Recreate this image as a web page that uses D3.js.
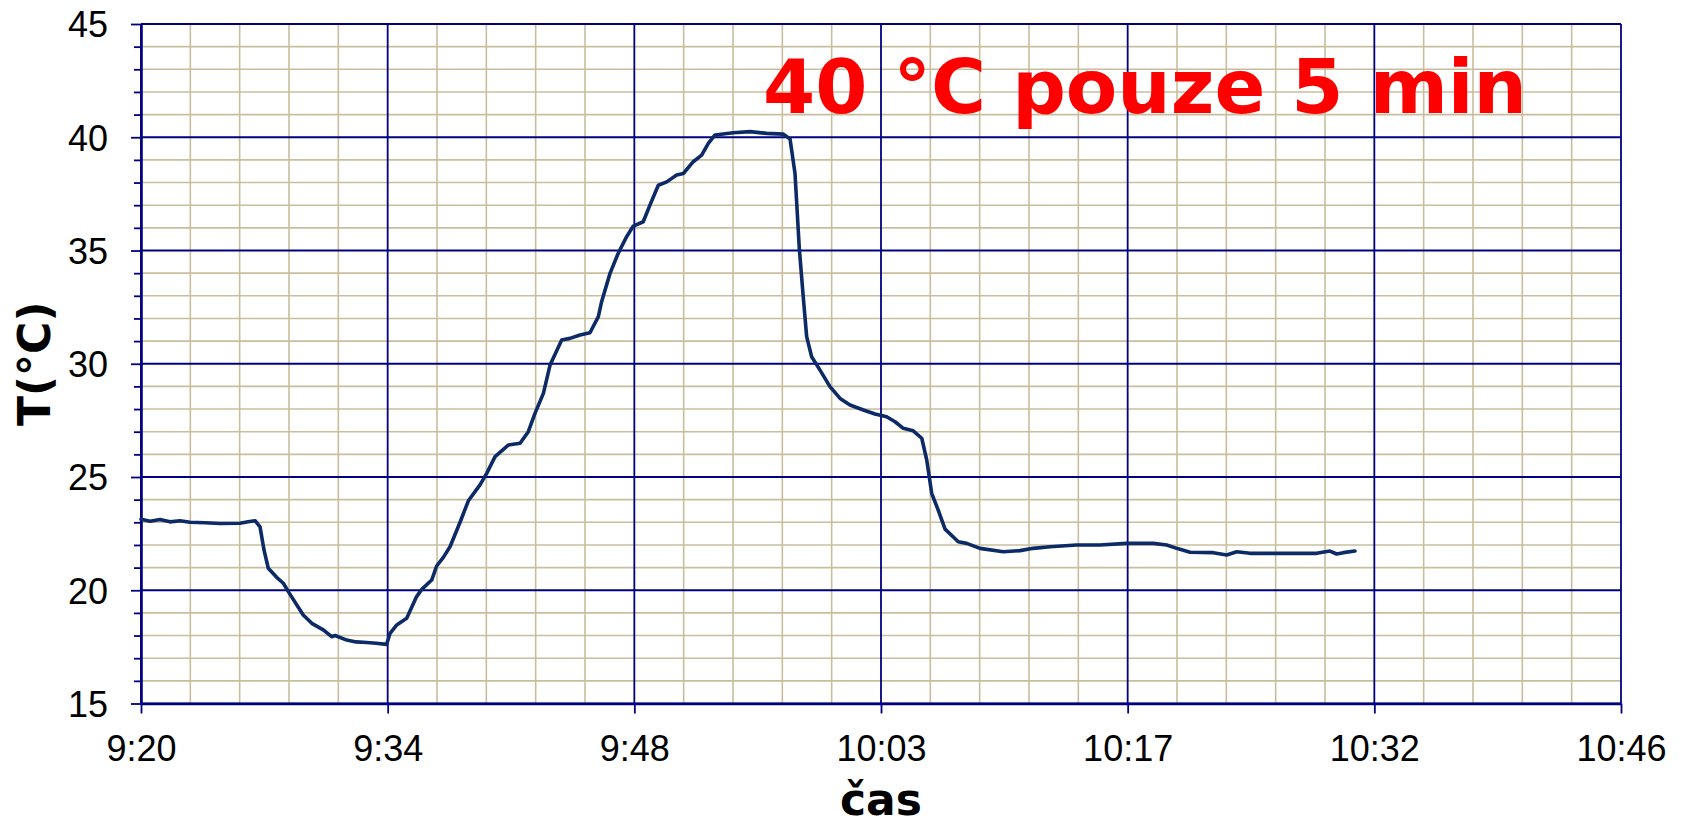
<!DOCTYPE html>
<html>
<head>
<meta charset="utf-8">
<script src="https://cdn.jsdelivr.net/npm/d3@7"></script>
<style>
  html, body { margin: 0; padding: 0; background: #ffffff; }
  svg { display: block; }
</style>
</head>
<body>
<svg id="chart" width="1683" height="822"></svg>
<script>
// ---- data (minutes after the axis origin 9:20, temperature in °C) ----
const timeMin = [0, 0.53, 1.11, 1.69, 2.28, 2.86, 3.74, 4.61, 5.78, 6.25, 6.66, 6.95, 7.18, 7.43, 7.92, 8.31, 8.60,
  9.47, 9.97, 10.64, 11.13, 11.33, 12.01, 12.55, 13.18, 13.72, 14.34, 14.54, 14.93, 15.51, 16.09, 16.39, 16.97,
  17.26, 17.65, 18.04, 18.62, 19.11, 19.79, 20.18, 20.67, 21.44, 22.13, 22.61, 23.00, 23.49, 23.88, 24.56, 25.04,
  25.63, 26.21, 26.70, 26.89, 27.38, 27.86, 28.35, 28.74, 29.32, 29.71, 30.20, 30.69, 31.27, 31.66, 32.24, 32.73,
  33.12, 33.51, 34.58, 35.55, 36.53, 37.50, 37.89, 38.18, 38.43, 38.66, 38.86, 39.15, 39.64, 40.22, 40.81, 41.39,
  42.17, 42.85, 43.53, 44.02, 44.50, 45.08, 45.58, 45.87, 46.16, 46.54, 46.94, 47.71, 48.20, 48.98, 50.34, 51.31,
  52.09, 53.07, 54.62, 55.98, 57.54, 59.10, 59.88, 60.46, 61.24, 62.60, 63.38, 63.97, 64.74, 65.72, 66.69, 67.66,
  68.63, 69.41, 69.80, 70.19, 70.87];
const tempC = [23.13, 23.05, 23.12, 23.02, 23.07, 23.00, 22.98, 22.95, 22.96, 23.02, 23.07, 22.80, 21.78, 20.97, 20.57, 20.31, 19.94,
  18.91, 18.54, 18.25, 17.95, 18.00, 17.80, 17.72, 17.69, 17.66, 17.61, 18.10, 18.47, 18.76, 19.72, 20.04, 20.45,
  21.07, 21.45, 21.92, 22.99, 23.95, 24.65, 25.16, 25.90, 26.41, 26.49, 27.00, 27.81, 28.69, 29.94, 31.05, 31.12,
  31.27, 31.37, 32.08, 32.74, 33.99, 34.88, 35.61, 36.08, 36.27, 37.00, 37.88, 38.03, 38.33, 38.40, 38.92, 39.21,
  39.73, 40.10, 40.20, 40.25, 40.17, 40.14, 39.92, 38.40, 35.10, 32.96, 31.20, 30.31, 29.72, 28.99, 28.47, 28.18,
  27.96, 27.78, 27.66, 27.44, 27.15, 27.04, 26.71, 25.75, 24.28, 23.54, 22.70, 22.14, 22.07, 21.85, 21.70, 21.75,
  21.85, 21.92, 22.00, 22.00, 22.07, 22.07, 22.00, 21.85, 21.68, 21.66, 21.56, 21.70, 21.63, 21.63, 21.63, 21.63,
  21.63, 21.73, 21.60, 21.66, 21.73];

const xTickLabels = ["9:20", "9:34", "9:48", "10:03", "10:17", "10:32", "10:46"];
const yTickValues = [15, 20, 25, 30, 35, 40, 45];
const xMajorStep = 14.4;   // minutes (0.01 day)
const xMinorStep = 2.88;   // minutes
const yMinorStep = 1;

const titleText = "40 °C pouze 5 min";
const xTitle = "čas";
const yTitle = "T(°C)";

// ---- layout ----
const pL = 141, pR = 1621, pT = 24, pB = 703.5;
const svg = d3.select("#chart");
svg.append("rect").attr("width", 1683).attr("height", 822).attr("fill", "#ffffff");

const x = d3.scaleLinear().domain([0, 6 * xMajorStep]).range([pL, pR]);
const y = d3.scaleLinear().domain([15, 45]).range([pB, pT]);

const navy = "#000080";
const tan = "#C8BE9C";

// minor grid
const xMinor = d3.range(0, 31).map(i => i * xMinorStep).filter((d, i) => i % 5 !== 0);
const yMinor = d3.range(15, 46, yMinorStep).filter(d => d % 5 !== 0);
const g = svg.append("g");
g.selectAll("line.vmin").data(xMinor).enter().append("line")
  .attr("x1", d => x(d)).attr("x2", d => x(d)).attr("y1", pT).attr("y2", pB)
  .attr("stroke", tan).attr("stroke-width", 1.6);
g.selectAll("line.hmin").data(yMinor).enter().append("line")
  .attr("x1", pL).attr("x2", pR).attr("y1", d => y(d)).attr("y2", d => y(d))
  .attr("stroke", tan).attr("stroke-width", 1.6);

// major grid
const xMajor = d3.range(0, 7).map(i => i * xMajorStep);
g.selectAll("line.vmaj").data(xMajor).enter().append("line")
  .attr("x1", d => x(d)).attr("x2", d => x(d)).attr("y1", pT).attr("y2", pB)
  .attr("stroke", navy).attr("stroke-width", 1.8);
g.selectAll("line.hmaj").data(yTickValues).enter().append("line")
  .attr("x1", pL).attr("x2", pR).attr("y1", d => y(d)).attr("y2", d => y(d))
  .attr("stroke", navy).attr("stroke-width", 1.8);

// y minor ticks
const yMinorAxis = d3.axisLeft(y).tickValues(yMinor).tickSize(7).tickSizeOuter(0).tickFormat("");
const gym = svg.append("g").attr("transform", `translate(${pL},0)`).call(yMinorAxis);
gym.select(".domain").remove();
gym.selectAll("line").attr("stroke", navy).attr("stroke-width", 1.8);

// y axis
const yAxis = d3.axisLeft(y).tickValues(yTickValues).tickSize(10).tickSizeOuter(0).tickPadding(23).tickFormat(d3.format("d"));
const gy = svg.append("g").attr("transform", `translate(${pL},0)`).call(yAxis);
gy.select(".domain").attr("stroke", navy).attr("stroke-width", 2.6);
gy.selectAll("line").attr("stroke", navy).attr("stroke-width", 1.8);
gy.selectAll("text").attr("font-family", "'Liberation Sans', Arial, sans-serif")
  .attr("font-size", 36).attr("fill", "#000").attr("dy", "0.36em");

// x axis
const xAxis = d3.axisBottom(x).tickValues(xMajor).tickSize(10).tickSizeOuter(0).tickPadding(22)
  .tickFormat((d, i) => xTickLabels[i]);
const gx = svg.append("g").attr("transform", `translate(0,${pB})`).call(xAxis);
gx.select(".domain").attr("stroke", navy).attr("stroke-width", 2.6);
gx.selectAll("line").attr("stroke", navy).attr("stroke-width", 1.8);
gx.selectAll("text").attr("font-family", "'Liberation Sans', Arial, sans-serif")
  .attr("font-size", 36).attr("fill", "#000");

// series
const pts = timeMin.map((t, i) => [t, tempC[i]]);
const line = d3.line().x(d => x(d[0])).y(d => y(d[1])).curve(d3.curveLinear);
svg.append("path").datum(pts).attr("d", line)
  .attr("fill", "none").attr("stroke", "#0B2A66").attr("stroke-width", 3.6)
  .attr("stroke-linejoin", "round").attr("stroke-linecap", "round");

// titles
const boldFont = "'DejaVu Sans', Verdana, sans-serif";
svg.append("text").attr("x", (pL + pR) / 2).attr("y", 815).attr("text-anchor", "middle")
  .attr("font-family", boldFont).attr("font-weight", "bold").attr("font-size", 44).attr("fill", "#000")
  .text(xTitle);
svg.append("text").attr("transform", `translate(50,${(pT + pB) / 2}) rotate(-90)`).attr("text-anchor", "middle")
  .attr("font-family", boldFont).attr("font-weight", "bold").attr("font-size", 44).attr("fill", "#000")
  .text(yTitle);
svg.append("text").attr("x", 763).attr("y", 112.7)
  .attr("font-family", boldFont).attr("font-weight", "bold").attr("font-size", 75).attr("fill", "#FF0000")
  .text(titleText);
</script>
</body>
</html>
